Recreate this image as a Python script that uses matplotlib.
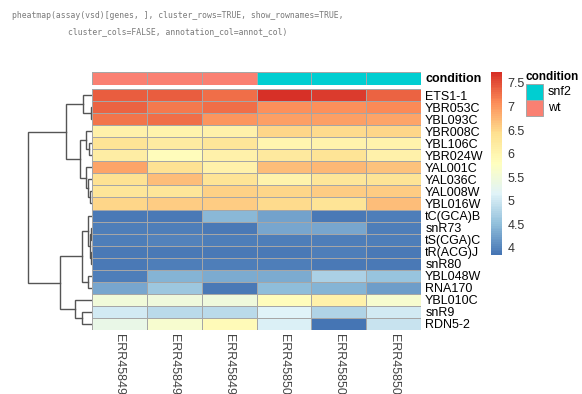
#!/usr/bin/env python
"""pheatmap-style expression heatmap: vsd values for 20 genes, rows clustered."""

import matplotlib

matplotlib.use("Agg")
import matplotlib.pyplot as plt
import numpy as np
from matplotlib.colors import LinearSegmentedColormap, ListedColormap
from matplotlib.patches import Rectangle

plt.rcParams["font.family"] = ["Liberation Sans", "DejaVu Sans"]

W, H = 582, 394

SAMPLES = ["ERR45849", "ERR45849", "ERR45849", "ERR45850", "ERR45850", "ERR45850"]
CONDITION = ["wt", "wt", "wt", "snf2", "snf2", "snf2"]
GENES = ["ETS1-1", "YBR053C", "YBL093C", "YBR008C", "YBL106C", "YBR024W",
         "YAL001C", "YAL036C", "YAL008W", "YBL016W", "tC(GCA)B", "snR73",
         "tS(CGA)C", "tR(ACG)J", "snR80", "YBL048W", "RNA170", "YBL010C",
         "snR9", "RDN5-2"]

# vsd values, rows in dendrogram order
VSD = [
    [7.40, 7.40, 7.30, 7.70, 7.62, 7.35],
    [7.35, 7.22, 7.28, 7.05, 7.05, 7.10],
    [7.25, 7.30, 7.00, 6.95, 6.95, 6.90],
    [6.10, 6.05, 6.10, 6.50, 6.45, 6.50],
    [6.35, 6.20, 6.30, 6.00, 6.05, 6.05],
    [6.15, 5.85, 6.10, 6.25, 6.35, 6.10],
    [6.90, 6.40, 6.10, 6.70, 6.75, 6.65],
    [6.40, 6.70, 6.35, 6.05, 6.30, 6.35],
    [6.30, 6.30, 6.55, 6.50, 6.60, 6.60],
    [6.50, 6.60, 6.60, 6.45, 6.35, 6.72],
    [3.92, 3.92, 4.45, 4.25, 3.92, 3.95],
    [3.95, 3.95, 3.92, 4.30, 4.30, 3.95],
    [3.95, 3.98, 3.95, 3.95, 3.95, 3.95],
    [3.90, 3.90, 3.90, 3.92, 3.95, 3.90],
    [3.92, 3.95, 3.95, 3.95, 3.90, 3.92],
    [3.95, 4.40, 4.35, 4.35, 4.72, 4.55],
    [4.30, 4.62, 3.90, 4.50, 4.42, 4.20],
    [5.50, 5.45, 5.45, 5.85, 6.10, 5.60],
    [5.05, 4.85, 4.85, 5.15, 4.75, 5.05],
    [5.35, 5.60, 5.90, 5.10, 3.88, 4.95],
]
VMIN, VMAX = 3.85, 7.73
CBAR_TICKS = [4, 4.5, 5, 5.5, 6, 6.5, 7, 7.5]

# row dendrogram, scipy-like merges: (left, right, height); new ids start at 20
LINKAGE = [
    (1, 2, 1), (0, 20, 9), (4, 5, 3), (3, 22, 6), (8, 9, 2), (7, 24, 4),
    (6, 25, 6), (23, 26, 12), (21, 27, 26), (11, 12, 1.5), (13, 14, 1.5),
    (29, 30, 2.5), (10, 31, 4), (15, 16, 4), (32, 33, 10), (18, 19, 10),
    (17, 35, 17), (34, 36, 32), (28, 37, 64),
]

# pheatmap default: rev(RdYlBu, 7) -> 100 colours
PALETTE = ["#4575B4", "#91BFDB", "#E0F3F8", "#FFFFBF", "#FEE090", "#FC8D59", "#D73027"]
ANNOT_COLORS = {"snf2": "#00CED1", "wt": "#FA8072"}
GRID = "#A6A6A6"
FS = 9


def box(x0, y0, x1, y1):
    """pixel box (top-left origin) -> figure fraction rect"""
    return [x0 / W, 1 - y1 / H, (x1 - x0) / W, (y1 - y0) / H]


def main():
    fig = plt.figure(figsize=(W / 100, H / 100), dpi=100)
    cmap = LinearSegmentedColormap.from_list("rdylbu_r", PALETTE, N=100)
    data = np.array(VSD)
    n_rows, n_cols = data.shape

    # code snippet above the plot
    code_kw = dict(family="DejaVu Sans Mono", fontsize=5.9, color="#7a7a7a", va="center")
    fig.text(12 / W, 1 - 15 / H,
             "pheatmap(assay(vsd)[genes, ], cluster_rows=TRUE, show_rownames=TRUE,", **code_kw)
    fig.text(68 / W, 1 - 32 / H, "cluster_cols=FALSE, annotation_col=annot_col)", **code_kw)

    # ---- main heatmap ----
    ax = fig.add_axes(box(92, 89, 421, 330))
    mesh = ax.pcolormesh(data, cmap=cmap, vmin=VMIN, vmax=VMAX,
                         edgecolors=GRID, linewidth=0.7)
    ax.set_xlim(0, n_cols)
    ax.set_ylim(n_rows, 0)
    ax.yaxis.tick_right()
    ax.set_yticks(np.arange(n_rows) + 0.5)
    ax.set_yticklabels(GENES, fontsize=FS)
    ax.set_xticks(np.arange(n_cols) + 0.5)
    ax.set_xticklabels(SAMPLES, fontsize=FS, rotation=-90, color="#444444", va="top")
    ax.tick_params(length=0, pad=3)
    for s in ax.spines.values():
        s.set_visible(False)

    # ---- annotation bar ----
    ax_a = fig.add_axes(box(92, 72, 421, 85))
    levels = list(ANNOT_COLORS)
    codes = np.array([[levels.index(c) for c in CONDITION]])
    ax_a.pcolormesh(codes, cmap=ListedColormap([ANNOT_COLORS[l] for l in levels]),
                    vmin=-0.5, vmax=len(levels) - 0.5, edgecolors=GRID, linewidth=0.7)
    ax_a.set_xlim(0, n_cols)
    ax_a.set_axis_off()
    fig.text(425 / W, 1 - 78.5 / H, "condition", fontsize=FS, fontweight="bold", va="center")

    # ---- row dendrogram ----
    ax_d = fig.add_axes(box(25, 89, 92, 330))
    pos = {i: (0.0, i + 0.5) for i in range(n_rows)}
    for k, (a, b, h) in enumerate(LINKAGE):
        (ha, ya), (hb, yb) = pos[a], pos[b]
        ax_d.plot([ha, h, h, hb], [ya, ya, yb, yb], color="#555555", lw=1.0,
                  solid_joinstyle="miter")
        pos[n_rows + k] = (h, (ya + yb) / 2)
    ax_d.set_xlim(67, 0)
    ax_d.set_ylim(n_rows, 0)
    ax_d.set_axis_off()

    # ---- colour bar ----
    cax = fig.add_axes(box(491, 72, 502, 255))
    cb = fig.colorbar(mesh, cax=cax, ticks=CBAR_TICKS)
    cb.outline.set_visible(False)
    cb.ax.set_yticklabels([f"{t:g}" for t in CBAR_TICKS])
    cb.ax.tick_params(length=0, pad=4, labelsize=FS, labelcolor="#333333")

    # ---- condition legend (title squeezed so it stays inside the figure) ----
    fig.text(526 / W, 1 - 77 / H, "condition", fontsize=8.5, fontweight="bold", va="center")
    for i, lvl in enumerate(levels):
        y0 = 84 + i * 16
        fig.add_artist(Rectangle((526 / W, 1 - (y0 + 16) / H), 17 / W, 16 / H,
                                 transform=fig.transFigure, facecolor=ANNOT_COLORS[lvl],
                                 edgecolor=GRID, linewidth=0.7))
        fig.text(548 / W, 1 - (y0 + 8) / H, lvl, fontsize=FS, va="center")

    fig.savefig("out.png", dpi=100)
    plt.close(fig)
    return 0


if __name__ == "__main__":
    raise SystemExit(main())
